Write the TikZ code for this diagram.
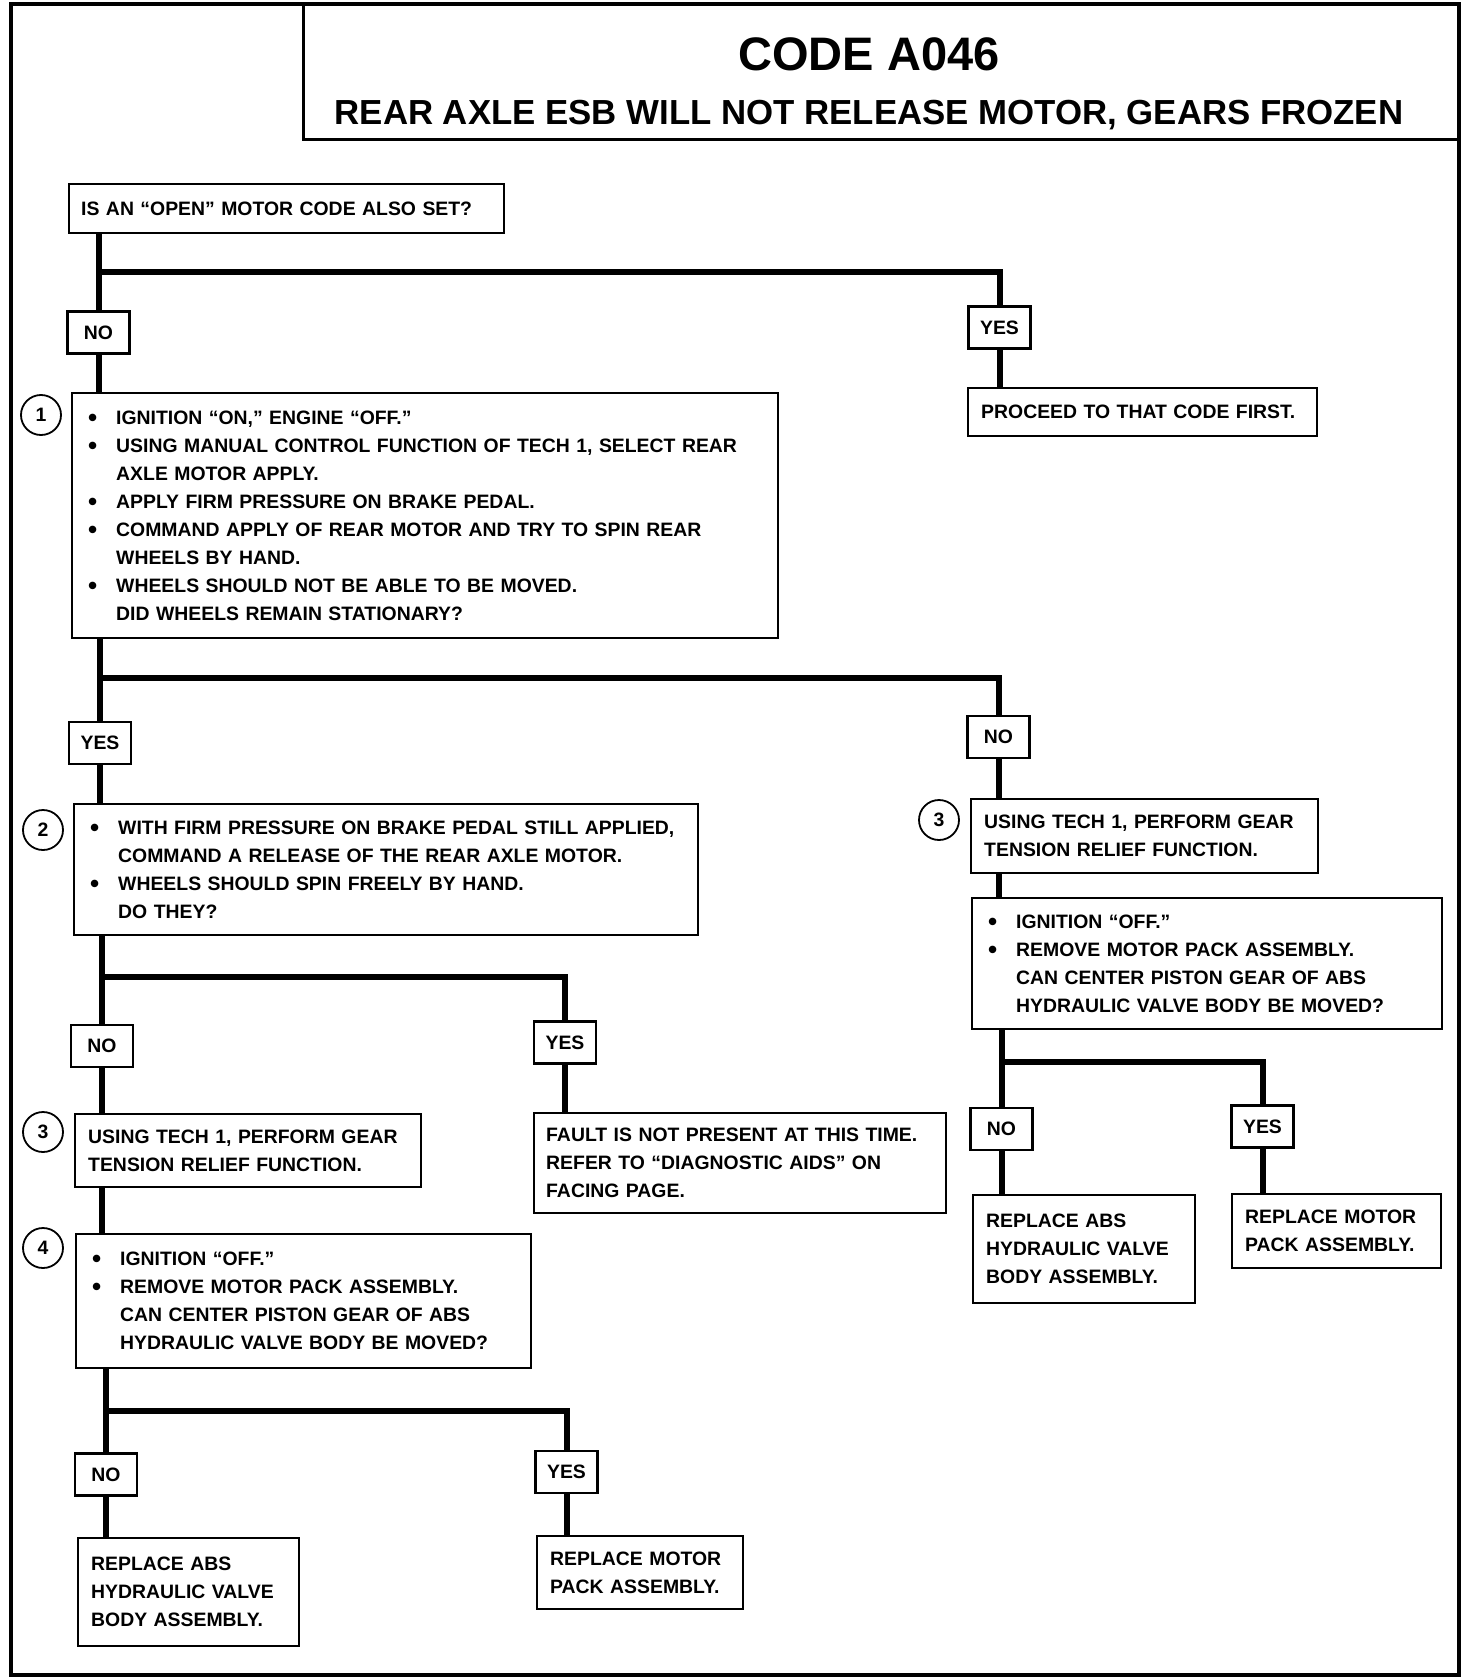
\documentclass[tikz,border=0pt]{standalone}
\usepackage{fontspec}
\setmainfont{Liberation Sans}
\newcommand{\bitem}{\makebox[14pt][l]{\raisebox{-1pt}{\fontsize{13}{14}\selectfont\textbullet}}}
\newcommand{\bcont}{\hspace*{14pt}}
\begin{document}
\begin{tikzpicture}[x=0.5pt,y=-0.5pt]
    \tikzstyle{every node}=[font=\bfseries\fontsize{9.7}{14}\selectfont]
    \tikzstyle{stepbox}=[draw, line width=1.2pt, anchor=north west, align=left, inner xsep=6.5pt, inner ysep=0pt]
    \tikzstyle{answer}=[draw, line width=1.2pt, inner sep=0pt, minimum width=31pt, minimum height=21pt]
    \tikzstyle{stepnum}=[draw, circle, line width=0.9pt, inner sep=0pt, minimum size=20pt]
    \tikzstyle{flow}=[line width=3pt]
    \useasboundingbox (0,0) rectangle (1472,1680);
    \draw [line width=2pt] (11,4) rectangle (1459,1675);
    \draw [line width=1.5pt] (303,4) rectangle (1459,140);
    \node [font=\bfseries\fontsize{23.5}{28}\selectfont] (code) at (869,54) {CODE A046};
    \node [font=\bfseries\fontsize{17.4}{21}\selectfont] (title) at (869,115) {REAR AXLE ESB WILL NOT RELEASE MOTOR, GEARS FROZEN};
    \node [stepbox, inner xsep=6pt, text width=205.5pt, minimum height=24.5pt] (q0) at (68,183) {IS AN “OPEN” MOTOR CODE ALSO SET?};
    \node [answer] (no1) at (98.5,332.5) {NO};
    \node [answer] (yes1) at (999.5,327.5) {YES};
    \node [stepbox, text width=161.5pt, minimum height=24pt] (proceed) at (967,387) {PROCEED TO THAT CODE FIRST.};
    \node [stepnum] (n1) at (41,415) {1};
    \node [stepbox, inner xsep=8pt, text width=337pt, minimum height=122.5pt] (s1) at (71,392) {\bitem IGNITION “ON,” ENGINE “OFF.”\\
        \bitem USING MANUAL CONTROL FUNCTION OF TECH 1, SELECT REAR\\
        \bcont AXLE MOTOR APPLY.\\
        \bitem APPLY FIRM PRESSURE ON BRAKE PEDAL.\\
        \bitem COMMAND APPLY OF REAR MOTOR AND TRY TO SPIN REAR\\
        \bcont WHEELS BY HAND.\\
        \bitem WHEELS SHOULD NOT BE ABLE TO BE MOVED.\\
        \bcont DID WHEELS REMAIN STATIONARY?};
    \node [answer] (yes2) at (100,743) {YES};
    \node [answer] (no2) at (998.5,737) {NO};
    \node [stepnum] (n2) at (43,830) {2};
    \node [stepbox, inner xsep=8pt, text width=296pt, minimum height=65.5pt] (s2) at (73,803) {\bitem WITH FIRM PRESSURE ON BRAKE PEDAL STILL APPLIED,\\
        \bcont COMMAND A RELEASE OF THE REAR AXLE MOTOR.\\
        \bitem WHEELS SHOULD SPIN FREELY BY HAND.\\
        \bcont DO THEY?};
    \node [stepnum] (n3r) at (939,820) {3};
    \node [stepbox, text width=160.5pt, minimum height=37pt] (s3r) at (970,798) {USING TECH 1, PERFORM GEAR\\TENSION RELIEF FUNCTION.};
    \node [stepbox, inner xsep=8pt, text width=219pt, minimum height=65.5pt] (s4r) at (971,897) {\bitem IGNITION “OFF.”\\
        \bitem REMOVE MOTOR PACK ASSEMBLY.\\
        \bcont CAN CENTER PISTON GEAR OF ABS\\
        \bcont HYDRAULIC VALVE BODY BE MOVED?};
    \node [answer] (no4r) at (1001.5,1129) {NO};
    \node [answer] (yes4r) at (1262.5,1126.5) {YES};
    \node [stepbox, text width=98pt, minimum height=54pt] (absr) at (972,1194) {REPLACE ABS\\HYDRAULIC VALVE\\BODY ASSEMBLY.};
    \node [stepbox, text width=91.5pt, minimum height=37pt] (motr) at (1231,1193) {REPLACE MOTOR\\PACK ASSEMBLY.};
    \node [answer] (no3) at (102,1046) {NO};
    \node [answer] (yes3) at (565,1042.5) {YES};
    \node [stepnum] (n3) at (43,1132) {3};
    \node [stepbox, text width=160pt, minimum height=36.5pt] (s3) at (74,1113) {USING TECH 1, PERFORM GEAR\\TENSION RELIEF FUNCTION.};
    \node [stepbox, inner xsep=6pt, text width=194pt, minimum height=50pt] (fault) at (533,1112) {FAULT IS NOT PRESENT AT THIS TIME.\\REFER TO “DIAGNOSTIC AIDS” ON\\FACING PAGE.};
    \node [stepnum] (n4) at (43,1248) {4};
    \node [stepbox, inner xsep=8pt, text width=211.5pt, minimum height=67pt] (s4) at (75,1233) {\bitem IGNITION “OFF.”\\
        \bitem REMOVE MOTOR PACK ASSEMBLY.\\
        \bcont CAN CENTER PISTON GEAR OF ABS\\
        \bcont HYDRAULIC VALVE BODY BE MOVED?};
    \node [answer] (no4) at (106,1474.5) {NO};
    \node [answer] (yes4) at (566.5,1472) {YES};
    \node [stepbox, text width=97.5pt, minimum height=54pt] (absl) at (77,1537) {REPLACE ABS\\HYDRAULIC VALVE\\BODY ASSEMBLY.};
    \node [stepbox, text width=90pt, minimum height=36.5pt] (motl) at (536,1535) {REPLACE MOTOR\\PACK ASSEMBLY.};
    \coordinate (j1) at (98.5,272);
    \draw [flow] (no1.north |- q0.south) -- (no1.north);
    \draw [flow] (j1) -| (yes1.north);
    \draw [flow] (no1.south) -- (no1.south |- s1.north);
    \draw [flow] (yes1.south) -- (yes1.south |- proceed.north);
    \coordinate (j2) at (100,678);
    \draw [flow] (yes2.north |- s1.south) -- (yes2.north);
    \draw [flow] (j2) -| (no2.north);
    \draw [flow] (yes2.south) -- (yes2.south |- s2.north);
    \draw [flow] (no2.south) -- (no2.south |- s3r.north);
    \draw [flow] (no2.south |- s3r.south) -- (no2.south |- s4r.north);
    \coordinate (j4r) at (1001.5,1062);
    \draw [flow] (no4r.north |- s4r.south) -- (no4r.north);
    \draw [flow] (j4r) -| (yes4r.north);
    \draw [flow] (no4r.south) -- (no4r.south |- absr.north);
    \draw [flow] (yes4r.south) -- (yes4r.south |- motr.north);
    \coordinate (j3) at (102,977);
    \draw [flow] (no3.north |- s2.south) -- (no3.north);
    \draw [flow] (j3) -| (yes3.north);
    \draw [flow] (no3.south) -- (no3.south |- s3.north);
    \draw [flow] (yes3.south) -- (yes3.south |- fault.north);
    \draw [flow] (no3.south |- s3.south) -- (no3.south |- s4.north);
    \coordinate (j4) at (106,1411);
    \draw [flow] (no4.north |- s4.south) -- (no4.north);
    \draw [flow] (j4) -| (yes4.north);
    \draw [flow] (no4.south) -- (no4.south |- absl.north);
    \draw [flow] (yes4.south) -- (yes4.south |- motl.north);
\end{tikzpicture}
\end{document}
